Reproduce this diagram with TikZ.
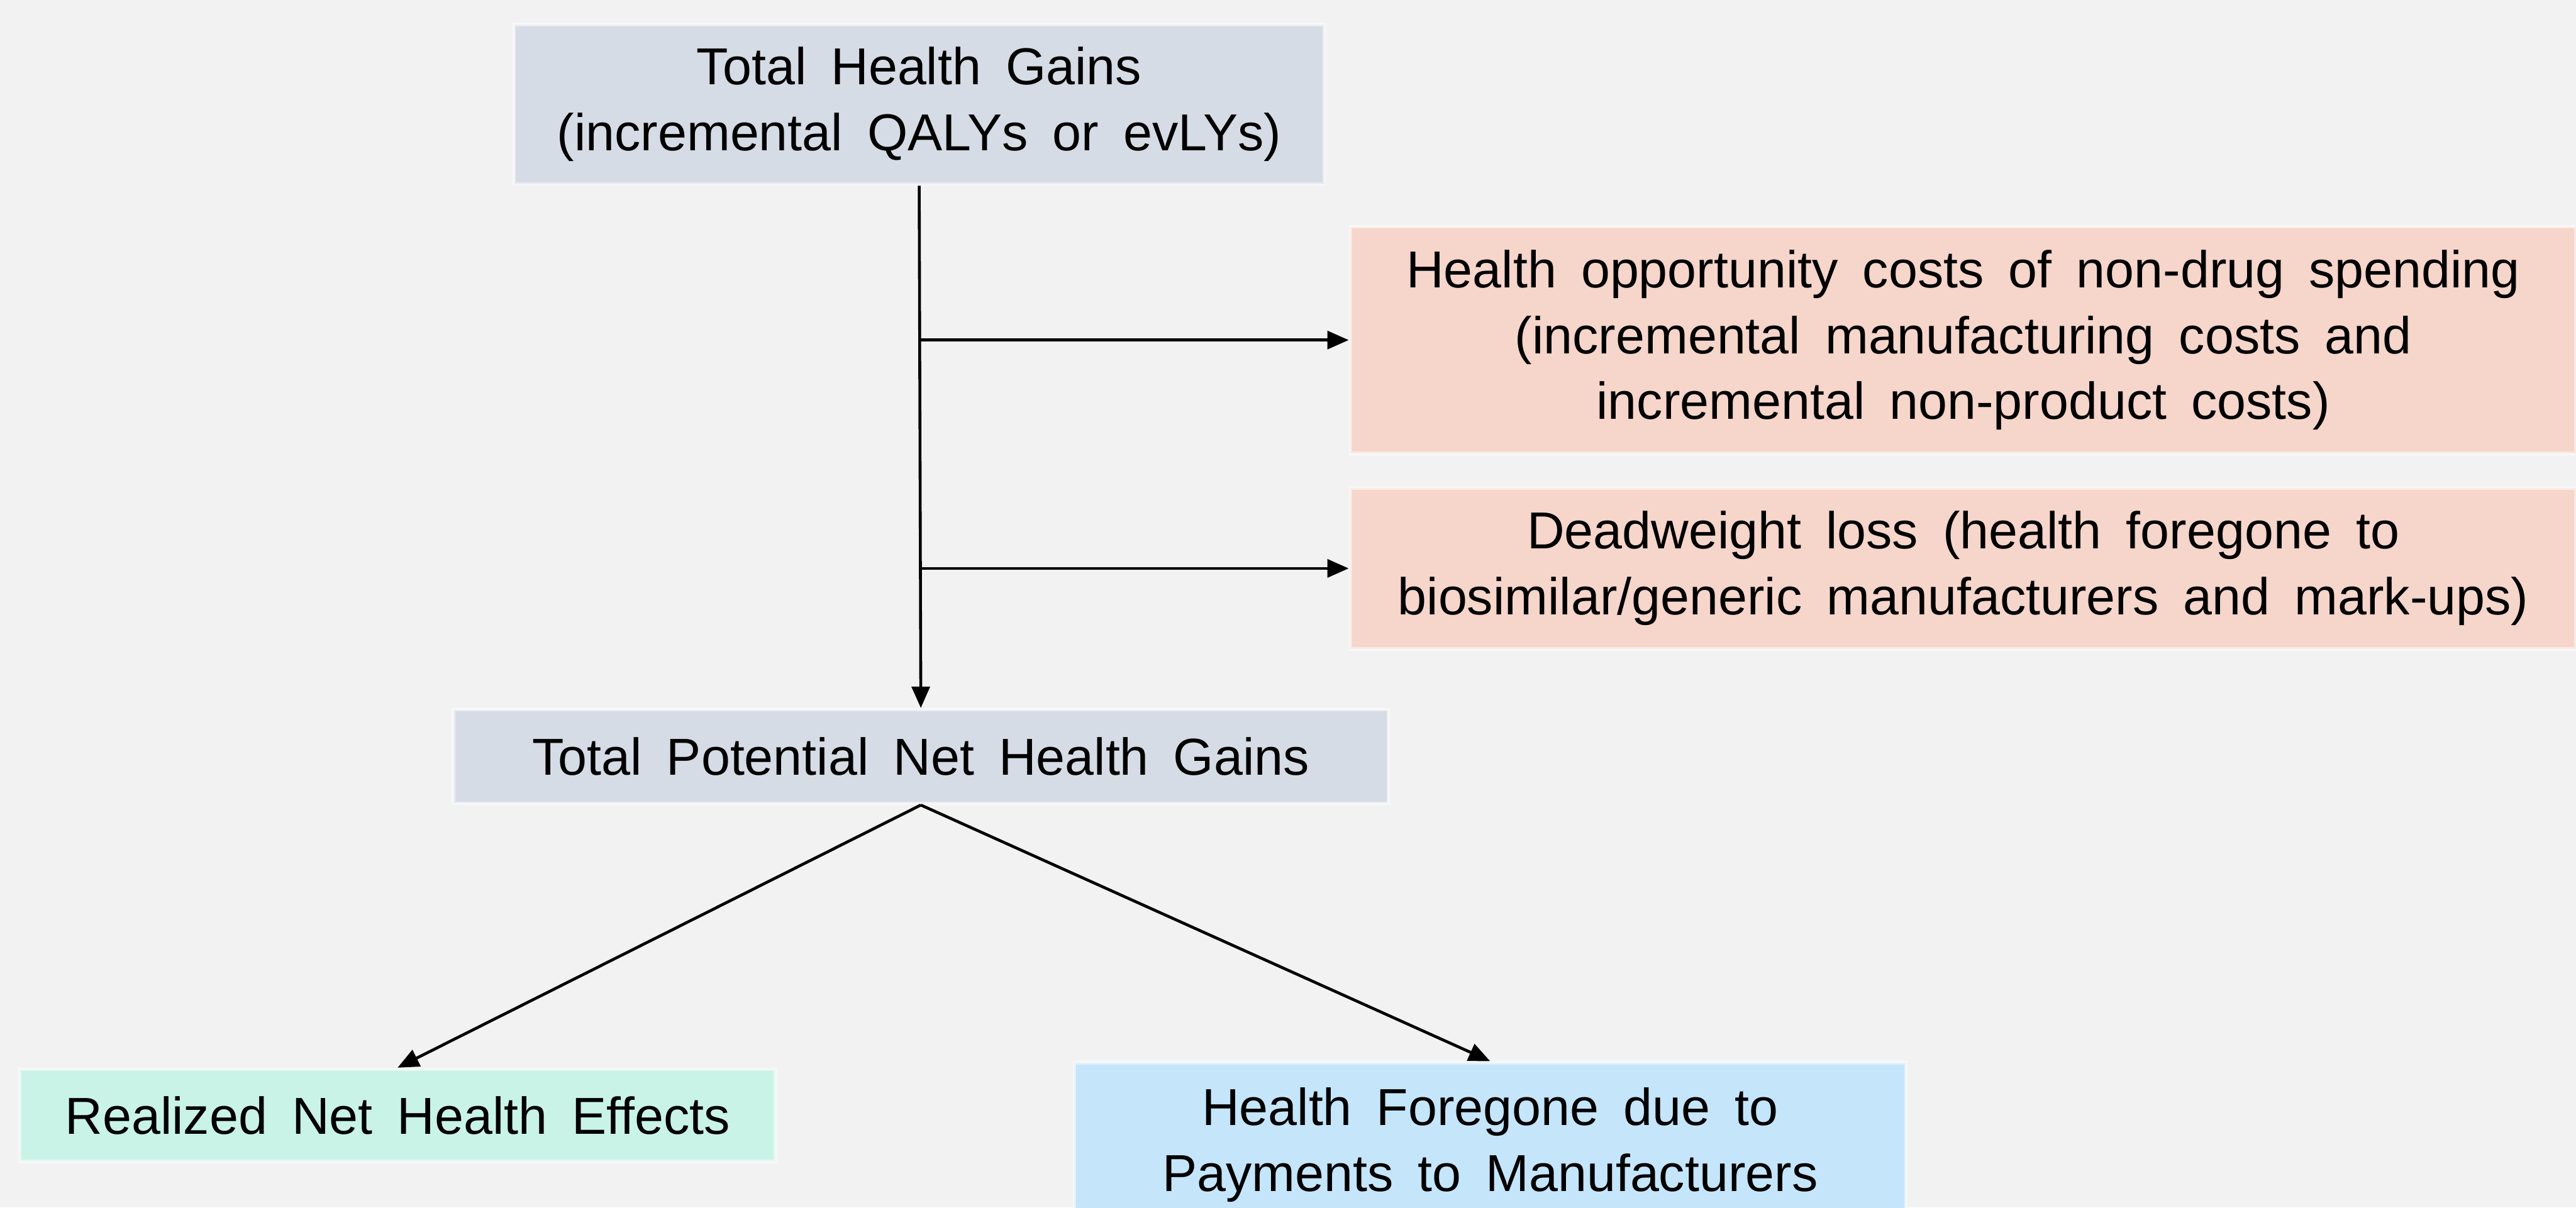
\documentclass[tikz,border=0pt]{standalone}
\usepackage{fontspec}
\setmainfont[WordSpace=1.7]{Liberation Sans}
\usetikzlibrary{arrows.meta}

\definecolor{bgcol}{HTML}{F2F2F2}
\definecolor{gaincol}{HTML}{D6DCE5}
\definecolor{costcol}{HTML}{F6D5CA}
\definecolor{realcol}{HTML}{C9F3E6}
\definecolor{forecol}{HTML}{C5E5FB}

\begin{document}
\begin{tikzpicture}[
    box/.style={draw=white, draw opacity=0.5, line width=0.6pt, align=center, inner sep=0pt,
        font=\fontsize{9}{11.4}\selectfont},
    link/.style={line width=0.5pt, -{Triangle[length=1.3mm, width=1.1mm]}}
]
    \clip (0,0) rectangle (15.68,-7.35);
    \fill[bgcol] (0,0) rectangle (15.68,-7.35);
    % gains
    \node[box, fill=gaincol, minimum width=4.93cm, minimum height=0.97cm] at (5.595,-0.635) (total) {Total Health Gains\\(incremental QALYs or evLYs)};
    \node[box, fill=gaincol, minimum width=5.69cm, minimum height=0.57cm] at (5.605,-4.605) (potential) {Total Potential Net Health Gains};
    % costs
    \node[box, fill=costcol, minimum width=7.46cm, minimum height=1.38cm] at (11.95,-2.07) (opp) {Health opportunity costs of non-drug spending\\(incremental manufacturing costs and\\incremental non-product costs)};
    \node[box, fill=costcol, minimum width=7.46cm, minimum height=0.98cm] at (11.95,-3.46) (dwl) {Deadweight loss (health foregone to\\biosimilar/generic manufacturers and mark-ups)};
    % outcomes
    \node[box, fill=realcol, minimum width=4.60cm, minimum height=0.56cm] at (2.42,-6.79) (realized) {Realized Net Health Effects};
    \node[box, fill=forecol, minimum width=5.06cm, minimum height=1.00cm] at (9.07,-6.97) (foregone) {Health Foregone due to\\Payments to Manufacturers};

    \draw[link] (total.south) -- (potential.north);
    \coordinate (split1) at (total.south |- opp.west);
    \coordinate (split2) at (total.south |- dwl.west);
    \draw[link] (split1) -- (opp.west);
    \draw[link] (split2) -- (dwl.west);
    \draw[link] (potential.south) -- (realized.north);
    \draw[link] (potential.south) -- (foregone.north);
\end{tikzpicture}
\end{document}
